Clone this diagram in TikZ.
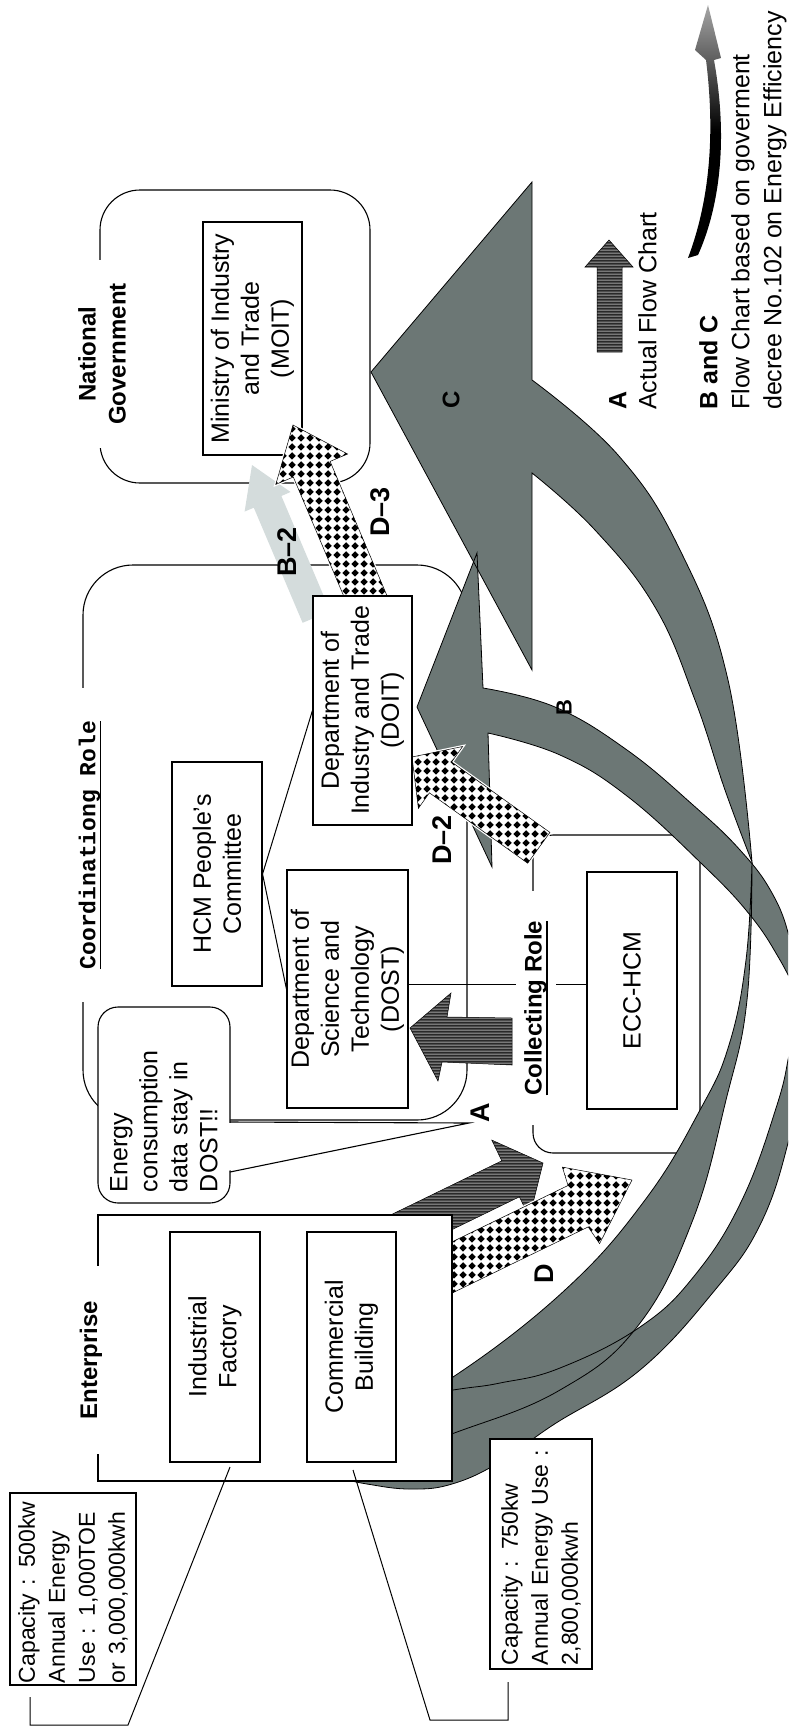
\documentclass[tikz,border=0pt]{standalone}
\usepackage{fontspec}
\setmainfont{Liberation Sans}
\newfontfamily\monofam{Liberation Mono}
\usetikzlibrary{patterns}
\pgfdeclarepatternformonly{hstripes}{\pgfqpoint{0pt}{0pt}}{\pgfqpoint{4pt}{3pt}}{\pgfqpoint{4pt}{3pt}}{%
  \pgfsetlinewidth{1.2pt}\pgfpathmoveto{\pgfqpoint{-1pt}{1.5pt}}\pgfpathlineto{\pgfqpoint{5pt}{1.5pt}}\pgfusepath{stroke}}
\pgfdeclarepatternformonly{diamonds}{\pgfqpoint{0pt}{0pt}}{\pgfqpoint{9pt}{9pt}}{\pgfqpoint{9pt}{9pt}}{%
  \pgfpathmoveto{\pgfqpoint{4.5pt}{0.4pt}}\pgfpathlineto{\pgfqpoint{8.6pt}{4.5pt}}\pgfpathlineto{\pgfqpoint{4.5pt}{8.6pt}}\pgfpathlineto{\pgfqpoint{0.4pt}{4.5pt}}\pgfpathclose\pgfusepath{fill}}
\definecolor{grA}{RGB}{108,119,117}
\definecolor{lightB}{RGB}{212,220,220}
\definecolor{stripeg}{RGB}{120,120,120}
\newcommand\normtxt{\fontsize{25pt}{30pt}\selectfont}
\newcommand\captxt{\fontsize{23pt}{30pt}\selectfont}
\newcommand\ttltxt{\fontsize{24pt}{30pt}\selectfont\bfseries}
\newcommand\lbltxt{\fontsize{27pt}{30pt}\selectfont\bfseries}
\newcommand\thickul[1]{\setbox0\hbox{#1}\leavevmode\rlap{\rule[-6pt]{\wd0}{1.8pt}}\box0}
\newcommand\Cfront{(371,372) -- (532,182) -- (532,380) -- plot[smooth, tension=0.7] coordinates {(532,380) (618,455) (680,550) (728,680) (752,862)} -- plot[smooth, tension=0.7] coordinates {(752,862) (725,790) (695,700) (655,607) (595,530) (532,473)} -- (532,670) -- cycle}
\newcommand\Cback{plot[smooth, tension=0.7] coordinates {(752,862) (746,960) (729,1045) (700,1110) (645,1200) (565,1290) (453,1377) (370,1420)} -- (370,1460) -- plot[smooth, tension=0.7] coordinates {(370,1460) (457,1432) (560,1390) (637,1327) (692,1222) (726,1100) (747,1000) (752,862)} -- cycle}
\newcommand\Bfront{(417,707) -- (477,553) -- (483,688) -- plot[smooth, tension=0.7] coordinates {(483,688) (555,707) (627,750) (693,805) (740,850) (772,893) (790,940) (800,1000)} -- plot[smooth, tension=0.7] coordinates {(800,1000) (780,960) (750,915) (703,865) (627,796) (560,755) (488,733)} -- (492,867) -- cycle}
\newcommand\Bback{plot[smooth, tension=0.7] coordinates {(800,1000) (790,1050) (777,1105) (742,1200) (695,1275) (640,1327) (560,1368) (500,1383) (453,1390) (360,1405)} -- (340,1478) -- plot[smooth, tension=0.7] coordinates {(340,1478) (367,1484) (410,1489) (452,1484) (500,1462) (553,1425) (640,1370) (715,1290) (760,1225) (788,1143) (800,1070) (800,1000)} -- cycle}
\begin{document}
\begin{tikzpicture}[x=1pt,y=-1pt,line join=miter,
  ibox/.style={draw, fill=white, rotate=90, align=center, line width=1.1pt, inner sep=2pt, font=\normtxt},
  grp/.style={draw, line width=1.1pt, rounded corners=#1},
  ttl/.style={fill=white, rotate=90, align=center, inner ysep=2pt, font=\ttltxt},
  lbl/.style={rotate=90, font=\lbltxt, inner sep=0pt},
  gro/.style={draw=black, line width=0.8pt},
  astyle/.style={preaction={fill=stripeg}, pattern=hstripes, draw=black, line width=0.5pt},
  dstyle/.style={preaction={draw=white, line width=3pt}, preaction={fill=white}, pattern=diamonds, draw=black, line width=0.5pt},
  conn/.style={line width=1pt}]
\path[use as bounding box] (0,0) rectangle (788,1729);
\clip (0,0) rectangle (788,1729);

% group boxes
\draw[grp=40pt] (100,190) rectangle (370,483);
\draw[grp=50pt] (83,565) rectangle (467,1120);
\draw[grp=20pt] (533,835) rectangle (700,1153);

% B-2 light arrow
\fill[lightB] (252,465) -- (290.6,492) -- (281.4,496) -- (330.2,611.2) -- (302.6,622.8) -- (253.8,507.7) -- (244.6,511.6) -- cycle;

% big curved arrows C and B
\fill[grA] \Cfront;
\fill[grA] \Cback;
\fill[grA] \Bfront;
\fill[grA] \Bback;
\draw[gro] \Cfront;
\draw[gro] \Cback;
\draw[gro] \Bfront;
\draw[gro] \Bback;

% MOIT
\node[ibox, minimum width=233pt, minimum height=99pt] (moit) at (252.5,338.5) {Ministry of Industry\\and Trade\\(MOIT)};

% A arrows (striped)
\path[astyle] (543,1163) -- (529.4,1217.5) -- (519.4,1196.8) -- (372,1268.6) -- (354.4,1232.6) -- (501.8,1160.8) -- (491.8,1140.1) -- cycle;
\path[astyle] (410,1028) -- (451,993) -- (447,1017) -- (512,1018) -- (512,1065) -- (442,1062) -- (438,1081) -- cycle;

% D arrows (checkered)
\path[dstyle] (632,1180) -- (599.6,1243.6) -- (588.2,1226.9) -- (408.4,1314.3) -- (388.2,1272.9) -- (568,1185.5) -- (562.4,1167.1) -- cycle;
\path[dstyle] (412,757) -- (462.6,746.5) -- (451.6,762) -- (549.9,832.4) -- (527.7,863.2) -- (429.4,792.8) -- (418.4,808.3) -- cycle;
\path[dstyle] (293,425) -- (347.6,454) -- (330.1,461.4) -- (389.4,601.4) -- (352.6,617) -- (293.3,477) -- (275.8,484.4) -- cycle;

% inner boxes
\node[ibox, minimum width=229pt, minimum height=99pt] (doit) at (362.5,710.5) {Department of\\Industry and Trade\\(DOIT)};
\node[ibox, minimum width=224pt, minimum height=90pt] (hcm) at (217,874) {HCM People's\\Committee};
\node[ibox, minimum width=238pt, minimum height=121pt] (dost) at (347.5,989) {Department of\\Science and\\Technology\\(DOST)};
\node[ibox, minimum width=237pt, minimum height=90pt] (ecc) at (632,990.5) {ECC-HCM};
\node[ibox, minimum width=266pt, minimum height=354pt] (ent) at (275,1348) {};
\node[ibox, minimum width=230pt, minimum height=90pt] (ind) at (215,1347) {Industrial\\Factory};
\node[ibox, minimum width=230pt, minimum height=89pt] (com) at (351.5,1347) {Commercial\\Building};
\node[ibox, font=\captxt, align=left, minimum height=126pt, text width=188pt, inner xsep=2pt, inner ysep=0pt] (cap1) at (73,1589) {Capacity : 500kw\\Annual Energy\\Use : 1,000TOE\\or 3,000,000kwh};
\node[ibox, font=\captxt, align=left, minimum height=102pt, text width=222pt, inner xsep=4pt, inner ysep=0pt] (cap2) at (541,1554) {Capacity : 750kw\\Annual Energy Use :\\2,800,000kwh};

% callout
\node[draw, fill=white, rounded corners=20pt, rotate=90, line width=1.1pt, minimum width=196pt, minimum height=132pt, text width=174pt, inner xsep=11pt, inner ysep=0pt, align=left, font=\normtxt] (call) at (164,1105) {Energy\\consumption\\data stay in\\DOST!!};
\coordinate (cw1) at (230,1122);
\coordinate (cwT) at (469,1123);
\coordinate (cw2) at (230,1172);
\fill[white] (227,1123.2) -- (cwT) -- (227,1171) -- cycle;
\draw[line width=1.1pt] (cw1) -- (cwT) -- (cw2);

% connectors
\coordinate (y984) at (0,984);
\draw[conn] (hcm.south) -- (dost.north);
\draw[conn] (hcm.south) -- (doit.north);
\draw[conn] (dost.south |- y984) -- (ecc.north |- y984);
\coordinate (k1a) at (30,1697);
\coordinate (k1b) at (30,1725);
\coordinate (k1c) at (128,1725);
\coordinate (k1d) at (230,1467);
\draw[conn] (k1a) -- (k1b) -- (k1c) -- (k1d);
\coordinate (k2a) at (508,1682);
\coordinate (k2b) at (508,1720);
\coordinate (k2c) at (430,1720);
\coordinate (k2d) at (353,1470);
\draw[conn] (k2a) -- (k2b) -- (k2c) -- (k2d);

% titles
\node[ttl, inner xsep=23pt] (ngT) at (102,354) {National\\Government};
\node[ttl, inner xsep=33pt, font=\monofam\bfseries\fontsize{23pt}{30pt}\selectfont] (coT) at (90,845) {\thickul{Coordinationg Role}};
\node[ttl, inner xsep=30pt, inner ysep=8pt] (crT) at (536,1008) {\thickul{Collecting Role}};
\node[ttl, inner xsep=35pt] (enT) at (91,1360) {Enterprise};

% labels
\node[lbl] (lA) at (480,1113) {A};
\node[lbl] (lD) at (544,1274) {D};
\node[lbl] (lD2) at (442,840) {D--2};
\node[lbl] (lD3) at (380,512) {D--3};
\node[lbl] (lB2) at (287,552) {B--2};
\node[lbl, font=\fontsize{24pt}{24pt}\selectfont\bfseries] (lC) at (451,400) {C};
\node[lbl, font=\fontsize{22pt}{22pt}\selectfont\bfseries] (lB) at (564,708) {B};

% legend
\path[astyle] (597,352) -- (597,267) -- (585,267) -- (609,240) -- (633,267) -- (622,267) -- (622,352) -- cycle;
\shade[top color=gray!70, bottom color=black, middle color=black] (688,258) -- (698,255) .. controls (716,215) and (730,150) .. (714,60) -- (721,58) -- (708,5) -- (695,50) -- (706,60) .. controls (716,140) and (708,205) .. (688,258) -- cycle;
\node[rotate=90, anchor=west, align=left, inner sep=0pt, font=\normtxt] (legA) at (633,410) {{\bfseries A}\\Actual Flow Chart};
\node[rotate=90, anchor=west, align=left, inner sep=0pt, font=\fontsize{25pt}{32pt}\selectfont] (legBC) at (743,410) {{\bfseries B and C}\\Flow Chart based on goverment\\decree No.102 on Energy Efficiency};
\end{tikzpicture}
\end{document}
